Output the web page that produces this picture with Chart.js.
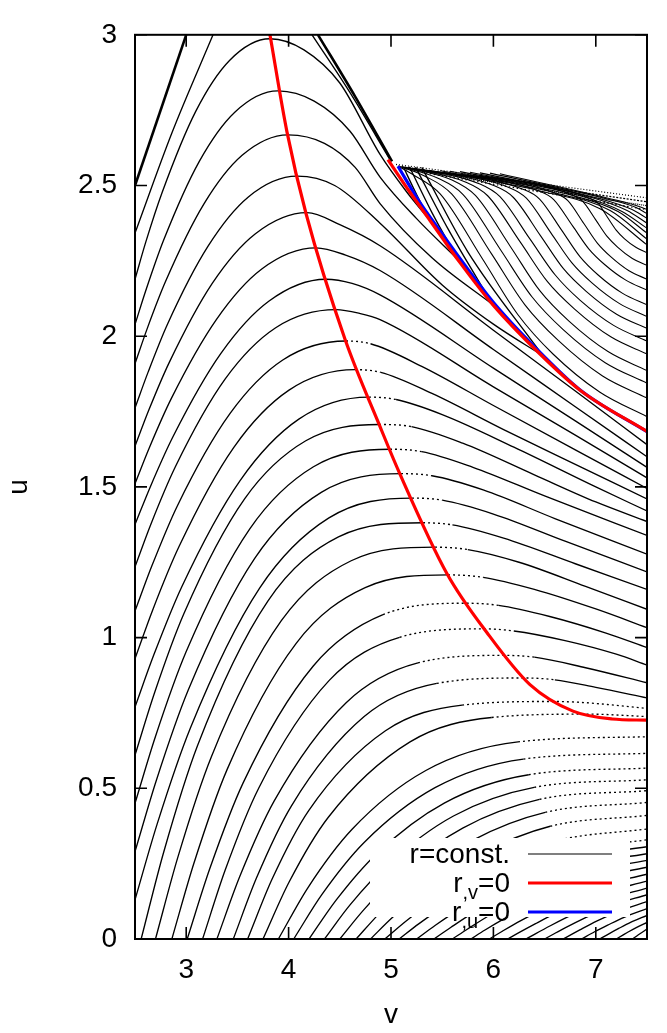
<!DOCTYPE html>
<html>
<head>
<meta charset="utf-8">
<script src="https://cdn.jsdelivr.net/npm/chart.js@4.4.1/dist/chart.umd.min.js"></script>
<style>
  html, body { margin: 0; padding: 0; background: #fff; }
  #wrap { width: 667px; height: 1033px; }
</style>
</head>
<body>
<div id="wrap"><canvas id="rchart" width="667" height="1033"></canvas></div>
<script>
// tick positions
const xTicks = [3, 4, 5, 6, 7];
const yTicks = [0, 0.5, 1, 1.5, 2, 2.5, 3];

// thick boundary segments [v, u]
const boundaryLines = [
  [[2.5, 2.5], [3.0, 3.0]],
  [[4.287, 3.0], [4.65, 2.795], [5.01, 2.58]],
];

// r=const. curve that leaves through the top and comes back
const topCurves = [
  [[2.5, 2.342], [2.861, 2.675], [3.262, 3.0]],
  [[4.229, 3.0], [4.6, 2.808], [4.99, 2.586]],
];

// r=const. curves with a maximum on r,v=0
const hillCurves = [
  [[2.5,2.189],[2.605,2.312],[2.764,2.476],[3.093,2.746],[3.423,2.915],[3.818,2.987],[4.15,2.95],[4.5,2.84],[4.893,2.603],[5.15,2.48],[5.381,2.384]],
  [[2.5,2.039],[2.612,2.158],[2.779,2.318],[3.128,2.58],[3.477,2.744],[3.896,2.814],[4.25,2.78],[4.6,2.68],[4.893,2.528],[5.25,2.39],[5.655,2.254]],
  [[2.5,1.909],[2.62,2.026],[2.799,2.182],[3.172,2.438],[3.546,2.6],[3.994,2.668],[4.35,2.64],[4.65,2.56],[4.893,2.44],[5.4,2.26],[5.996,2.104]],
  [[2.5,1.762],[2.627,1.88],[2.816,2.039],[3.212,2.298],[3.607,2.462],[4.082,2.531],[4.45,2.5],[4.893,2.375],[5.5,2.17],[6.0,2.04],[6.484,1.935]],
  [[2.5,1.635],[2.634,1.754],[2.836,1.914],[3.256,2.176],[3.676,2.34],[4.18,2.41],[4.5,2.37],[4.893,2.3],[6.0,2.02],[6.8,1.818],[7.5,1.64]],
  [[2.5,1.511],[2.641,1.631],[2.854,1.793],[3.296,2.056],[3.738,2.223],[4.268,2.293],[4.55,2.27],[4.893,2.218],[6.0,1.956],[6.8,1.766],[7.5,1.6]],
  [[2.5,1.375],[2.649,1.5],[2.873,1.668],[3.339,1.943],[3.806,2.116],[4.365,2.189],[4.62,2.175],[4.893,2.137],[6.0,1.894],[6.8,1.719],[7.5,1.565]],
  [[2.5,1.235],[2.657,1.378],[2.893,1.566],[3.383,1.859],[3.874,2.028],[4.463,2.088],[4.7,2.075],[4.893,2.055],[6.0,1.832],[6.8,1.672],[7.5,1.53]],
  [[2.5,1.088],[2.665,1.238],[2.912,1.436],[3.427,1.743],[3.943,1.921],[4.561,1.984],[4.8,1.975],[5.3,1.9],[6.0,1.77],[6.8,1.623],[7.5,1.495]],
  [[2.5,0.93],[2.672,1.091],[2.93,1.302],[3.467,1.632],[4.004,1.821],[4.649,1.889],[4.9,1.88],[5.4,1.81],[6.1,1.69],[6.8,1.575],[7.5,1.46]],
  [[2.5,0.77],[2.683,0.942],[2.957,1.169],[3.528,1.522],[4.1,1.725],[4.785,1.798],[5.05,1.79],[5.5,1.74],[6.2,1.632],[7.0,1.5],[7.5,1.42]],
  [[2.5,0.61],[2.691,0.817],[2.977,1.079],[3.572,1.461],[4.168,1.653],[4.883,1.707],[5.2,1.7],[5.7,1.645],[6.4,1.54],[7.0,1.45],[7.5,1.385]],
  [[2.5,0.45],[2.699,0.671],[2.998,0.952],[3.621,1.361],[4.243,1.567],[4.99,1.625],[5.3,1.617],[5.8,1.565],[6.5,1.47],[7.5,1.339]],
  [[2.5,0.29],[2.708,0.526],[3.02,0.826],[3.669,1.263],[4.319,1.482],[5.098,1.544],[5.4,1.537],[5.9,1.49],[6.6,1.395],[7.5,1.277]],
  [[2.5,0.13],[2.716,0.381],[3.041,0.7],[3.717,1.164],[4.394,1.397],[5.205,1.463],[5.5,1.456],[6.0,1.41],[6.7,1.32],[7.5,1.218]],
  [[2.56,0],[2.78,0.288],[3.111,0.642],[3.799,1.122],[4.487,1.334],[5.313,1.381],[5.6,1.374],[6.1,1.33],[6.8,1.245],[7.5,1.16]],
  [[2.7,0],[2.918,0.271],[3.246,0.605],[3.929,1.056],[4.611,1.255],[5.43,1.3],[5.75,1.292],[6.25,1.25],[6.9,1.17],[7.5,1.094]],
  [[2.86,0],[3.076,0.252],[3.399,0.562],[4.074,0.981],[4.748,1.166],[5.557,1.208],[5.9,1.2],[6.4,1.16],[7.0,1.095],[7.5,1.033]],
  [[3.01,0],[3.229,0.232],[3.556,0.518],[4.239,0.905],[4.922,1.076],[5.742,1.114],[6.05,1.107],[6.55,1.07],[7.1,1.015],[7.5,0.967]],
  [[3.16,0],[3.38,0.228],[3.71,0.502],[4.397,0.858],[5.084,1.001],[5.908,1.029],[6.2,1.022],[6.7,0.99],[7.2,0.945],[7.5,0.909]],
  [[3.3,0],[3.524,0.208],[3.861,0.459],[4.562,0.784],[5.263,0.916],[6.104,0.941],[6.4,0.935],[6.9,0.9],[7.5,0.85]],
  [[3.46,0],[3.687,0.203],[4.028,0.442],[4.738,0.738],[5.447,0.848],[6.299,0.866],[6.6,0.86],[7.0,0.835],[7.5,0.8]],
  [[3.6,0],[3.839,0.199],[4.198,0.427],[4.946,0.691],[5.694,0.776],[6.592,0.788],[6.9,0.784],[7.5,0.765]],
  [[3.75,0],[4.005,0.189],[4.388,0.404],[5.186,0.654],[5.983,0.735],[6.94,0.746],[7.5,0.738]],
];

// branches going back up from the cusps on r,u=0
const returnArms = [
  [[5.12,2.562],[5.25,2.47],[5.381,2.384]],
  [[5.18,2.562],[5.4,2.41],[5.655,2.254]],
  [[5.24,2.561],[5.55,2.36],[5.996,2.104]],
  [[5.3,2.56],[5.75,2.28],[6.484,1.935]],
];

// curves fanning out of the band in the upper right
const fanCurves = [
  [[5.07,2.564],[5.205,2.538],[5.48,2.472],[5.894,2.256],[6.238,2.072],[6.582,1.941],[7.041,1.814],[7.5,1.733]],
  [[5.088,2.563],[5.332,2.531],[5.592,2.472],[5.982,2.273],[6.308,2.104],[6.633,1.986],[7.066,1.868],[7.5,1.795]],
  [[5.107,2.562],[5.459,2.524],[5.704,2.47],[6.071,2.286],[6.378,2.13],[6.684,2.021],[7.092,1.912],[7.5,1.844]],
  [[5.127,2.561],[5.596,2.518],[5.824,2.467],[6.167,2.297],[6.453,2.151],[6.738,2.05],[7.119,1.949],[7.5,1.886]],
  [[5.146,2.56],[5.732,2.511],[5.944,2.466],[6.263,2.312],[6.528,2.181],[6.793,2.09],[7.146,1.998],[7.5,1.941]],
  [[5.166,2.559],[5.869,2.505],[6.064,2.463],[6.358,2.322],[6.604,2.203],[6.848,2.119],[7.174,2.036],[7.5,1.984]],
  [[5.186,2.558],[6.016,2.498],[6.193,2.461],[6.461,2.333],[6.684,2.224],[6.906,2.149],[7.203,2.073],[7.5,2.026]],
  [[5.205,2.557],[6.162,2.492],[6.322,2.458],[6.563,2.342],[6.765,2.244],[6.965,2.176],[7.232,2.108],[7.5,2.065]],
  [[5.225,2.556],[6.309,2.485],[6.451,2.455],[6.666,2.352],[6.845,2.264],[7.023,2.203],[7.262,2.142],[7.5,2.104]],
  [[5.244,2.555],[6.465,2.479],[6.589,2.453],[6.775,2.365],[6.931,2.29],[7.086,2.238],[7.293,2.186],[7.5,2.153]],
  [[5.264,2.554],[6.621,2.472],[6.727,2.45],[6.885,2.373],[7.017,2.308],[7.148,2.263],[7.324,2.217],[7.5,2.189]],
  [[5.283,2.553],[6.787,2.466],[6.873,2.447],[7.001,2.385],[7.108,2.332],[7.215,2.295],[7.357,2.258],[7.5,2.235]],
  [[5.303,2.552],[6.953,2.456],[7.019,2.442],[7.117,2.393],[7.199,2.352],[7.281,2.323],[7.391,2.295],[7.5,2.277]],
  [[5.38,2.55],[6.455,2.482],[7.041,2.423],[7.5,2.303]],
  [[5.48,2.549],[6.6,2.476],[7.14,2.417],[7.5,2.322]],
  [[5.576,2.547],[6.748,2.469],[7.217,2.414],[7.5,2.342]],
  [[5.674,2.546],[6.846,2.466],[7.256,2.414],[7.5,2.358]],
  [[5.771,2.544],[6.943,2.462],[7.305,2.417],[7.5,2.375]],
  [[5.869,2.542],[7.041,2.456],[7.354,2.42],[7.5,2.391]],
  [[5.967,2.541],[7.139,2.453],[7.393,2.427],[7.5,2.407]],
  [[6.064,2.539],[7.217,2.45],[7.422,2.43],[7.5,2.42]],
];

// noisy band along the top of the fan
const bandCurves = [
  [[5.049,2.57],[7.5,2.459]],
  [[5.068,2.564],[7.5,2.446]],
  [[5.107,2.557],[7.5,2.433]],
  [[5.186,2.55],[7.5,2.42]],
];

// r=const. curves under the flat part of r,v=0
const lowCurves = [
  [[3.9,0],[4.188,0.17],[4.62,0.364],[5.34,0.559],[6.24,0.654],[7.5,0.671]],
  [[4.05,0],[4.326,0.148],[4.74,0.321],[5.43,0.502],[6.293,0.597],[7.5,0.616]],
  [[4.2,0],[4.464,0.129],[4.86,0.283],[5.52,0.451],[6.345,0.545],[7.5,0.567]],
  [[4.35,0],[4.602,0.114],[4.98,0.251],[5.61,0.408],[6.398,0.503],[7.5,0.528]],
  [[4.5,0],[4.74,0.099],[5.1,0.223],[5.7,0.368],[6.45,0.463],[7.5,0.492]],
  [[4.66,0],[4.887,0.085],[5.228,0.194],[5.796,0.327],[6.506,0.42],[7.5,0.453]],
  [[4.8,0],[5.016,0.072],[5.34,0.164],[5.88,0.283],[6.555,0.374],[7.5,0.41]],
  [[4.94,0],[5.145,0.059],[5.452,0.137],[5.964,0.24],[6.604,0.325],[7.5,0.365]],
  [[5.08,0],[5.274,0.051],[5.564,0.118],[6.048,0.211],[6.653,0.289],[7.5,0.329]],
  [[5.25,0],[5.43,0.045],[5.7,0.106],[6.15,0.19],[6.713,0.264],[7.5,0.306]],
  [[5.42,0],[5.586,0.039],[5.836,0.094],[6.252,0.17],[6.772,0.24],[7.5,0.283]],
  [[5.6,0],[5.752,0.034],[5.98,0.082],[6.36,0.151],[6.835,0.217],[7.5,0.261]],
  [[5.78,0],[5.918,0.03],[6.124,0.071],[6.468,0.133],[6.898,0.194],[7.5,0.238]],
  [[5.96,0],[6.083,0.025],[6.268,0.061],[6.576,0.115],[6.961,0.17],[7.5,0.215]],
  [[6.14,0],[6.249,0.021],[6.412,0.051],[6.684,0.098],[7.024,0.148],[7.5,0.192]],
  [[6.32,0],[6.414,0.018],[6.556,0.044],[6.792,0.084],[7.087,0.128],[7.5,0.169]],
  [[6.5,0],[6.58,0.015],[6.7,0.037],[6.9,0.071],[7.15,0.11],[7.5,0.147]],
  [[6.68,0],[6.746,0.012],[6.844,0.03],[7.008,0.059],[7.213,0.091],[7.5,0.124]],
  [[6.86,0],[6.988,0.024],[7.116,0.046],[7.276,0.072],[7.5,0.101]],
  [[7.04,0],[7.132,0.018],[7.224,0.035],[7.339,0.055],[7.5,0.078]],
  [[7.2,0],[7.26,0.012],[7.32,0.024],[7.395,0.038],[7.5,0.055]],
  [[7.36,0],[7.416,0.014],[7.5,0.033]],
];

// r,v=0 (red)
const rvZeroLower = [[3.818,3.0],[3.984,2.678],[4.17,2.407],[4.551,1.99],[4.893,1.7],[5.078,1.55],[5.547,1.212],[5.938,1.016],[6.357,0.844],[6.777,0.756],[7.158,0.73],[7.5,0.726]];
const rvZeroUpper = [[4.97,2.586],[5.18,2.48],[5.381,2.384],[5.674,2.244],[5.996,2.104],[6.455,1.941],[6.846,1.821],[7.5,1.684]];
// r,u=0 (blue)
const ruZero = [[5.068,2.564],[5.27,2.45],[5.479,2.349],[5.72,2.236],[6.03,2.1],[6.48,1.938],[6.86,1.818],[7.5,1.683]];

const FONT = '"Liberation Sans", Arial, Helvetica, sans-serif';
const bandDashes = [[1, 2], [2, 1.5], [1, 1], [1.5, 2.5]];

// nearly flat pieces of the contours come out dotted in the original
function flatDash(ctx) {
  const dx = Math.abs(ctx.p1.x - ctx.p0.x);
  const dy = Math.abs(ctx.p1.y - ctx.p0.y);
  return dy < 0.14 * dx ? [2, 3] : undefined;
}

function curveSet(list, color, width, order, dotted) {
  return list.map((pts) => {
    const ds = {
      data: pts,
      borderColor: color,
      borderWidth: width,
      order: order,
      pointRadius: 0,
      fill: false,
      cubicInterpolationMode: "monotone",
    };
    if (dotted) ds.segment = { borderDash: flatDash };
    return ds;
  });
}

let datasets = [];
datasets = datasets.concat(curveSet([rvZeroLower, rvZeroUpper], "#ff0000", 3.2, 0, false));
datasets = datasets.concat(curveSet([ruZero], "#0000ff", 3.2, 1, false));
datasets = datasets.concat(curveSet(boundaryLines, "#000", 2.6, 2, false));
datasets = datasets.concat(curveSet(topCurves, "#000", 1.35, 3, false));
datasets = datasets.concat(curveSet(hillCurves, "#000", 1.35, 3, true));
datasets = datasets.concat(curveSet(returnArms, "#000", 1.35, 3, false));
datasets = datasets.concat(curveSet(fanCurves, "#000", 1.1, 3, true));
datasets = datasets.concat(curveSet(lowCurves, "#000", 1.35, 3, true));
bandCurves.forEach((pts, i) => {
  const ds = curveSet([pts], "#000", 1.2, 4, false)[0];
  ds.borderDash = bandDashes[i % bandDashes.length];
  datasets.push(ds);
});

// draw a label like r_{,v}=0
function drawKeyLabel(ctx, base, sub, tail, xRight, y) {
  const big = "28px " + FONT;
  const small = "20px " + FONT;
  ctx.textAlign = "left";
  ctx.font = big;
  const wBase = ctx.measureText(base).width;
  const wTail = ctx.measureText(tail).width;
  ctx.font = small;
  const wSub = ctx.measureText(sub).width;
  let x = xRight - wTail - wSub - wBase;
  ctx.font = big;
  ctx.fillText(base, x, y);
  x += wBase;
  ctx.font = small;
  ctx.fillText(sub, x, y + 7);
  x += wSub;
  ctx.font = big;
  ctx.fillText(tail, x, y);
}

const framePlugin = {
  id: "frame",
  beforeDraw(chart) {
    const ctx = chart.ctx;
    ctx.save();
    ctx.fillStyle = "#fff";
    ctx.fillRect(0, 0, chart.width, chart.height);
    ctx.restore();
  },
  afterDatasetsDraw(chart) {
    // opaque key box
    const ctx = chart.ctx;
    ctx.save();
    ctx.fillStyle = "#fff";
    ctx.fillRect(370, 838, 260, 79);
    ctx.fillStyle = "#000";
    ctx.textBaseline = "alphabetic";
    ctx.font = "28px " + FONT;
    ctx.textAlign = "right";
    ctx.fillText("r=const.", 510, 863);
    drawKeyLabel(ctx, "r", ",v", "=0", 510, 892);
    drawKeyLabel(ctx, "r", ",u", "=0", 510, 921);
    const samples = [["#000", 1.2, 854], ["#ff0000", 3.2, 883], ["#0000ff", 3.2, 912]];
    samples.forEach(([c, w, y]) => {
      ctx.strokeStyle = c;
      ctx.lineWidth = w;
      ctx.beginPath();
      ctx.moveTo(528, y);
      ctx.lineTo(612, y);
      ctx.stroke();
    });
    ctx.restore();
  },
  afterDraw(chart) {
    const ctx = chart.ctx;
    const { left, right, top, bottom } = chart.chartArea;
    const xs = chart.scales.x;
    const ys = chart.scales.y;
    ctx.save();
    ctx.strokeStyle = "#000";
    ctx.lineWidth = 1.6;
    ctx.beginPath();
    xTicks.forEach((v) => {
      const px = xs.getPixelForValue(v);
      ctx.moveTo(px, bottom);
      ctx.lineTo(px, bottom - 12);
      ctx.moveTo(px, top);
      ctx.lineTo(px, top + 12);
    });
    yTicks.forEach((u) => {
      const py = ys.getPixelForValue(u);
      ctx.moveTo(left, py);
      ctx.lineTo(left + 12, py);
      ctx.moveTo(right, py);
      ctx.lineTo(right - 12, py);
    });
    ctx.stroke();
    ctx.lineWidth = 2;
    ctx.strokeRect(left, top, right - left, bottom - top);
    ctx.restore();
  },
};

const tickFont = { family: FONT, size: 28 };

new Chart(document.getElementById("rchart"), {
  type: "line",
  data: { datasets: datasets },
  options: {
    responsive: false,
    devicePixelRatio: 1,
    animation: false,
    events: [],
    layout: { padding: { top: 18, right: 20, left: 0, bottom: 0 } },
    plugins: { legend: { display: false }, tooltip: { enabled: false } },
    elements: { point: { radius: 0 } },
    scales: {
      x: {
        type: "linear",
        min: 2.5,
        max: 7.5,
        afterBuildTicks: (axis) => {
          axis.ticks = xTicks.map((v) => ({ value: v }));
        },
        afterFit: (axis) => {
          axis.height = 94;
        },
        grid: { display: false, drawTicks: false },
        border: { display: false },
        ticks: {
          font: tickFont,
          color: "#000",
          padding: 14,
          maxRotation: 0,
          autoSkip: false,
          callback: (val) => String(val),
        },
        title: {
          display: true,
          text: "v",
          font: tickFont,
          color: "#000",
          padding: { top: 0, bottom: 1 },
        },
      },
      y: {
        type: "linear",
        min: 0,
        max: 3,
        afterBuildTicks: (axis) => {
          axis.ticks = yTicks.map((v) => ({ value: v }));
        },
        afterFit: (axis) => {
          axis.width = 135;
        },
        grid: { display: false, drawTicks: false },
        border: { display: false },
        ticks: {
          font: tickFont,
          color: "#000",
          padding: 18,
          autoSkip: false,
          callback: (val) => String(val),
        },
        title: {
          display: true,
          text: "u",
          font: tickFont,
          color: "#000",
          padding: { top: 2, bottom: 0 },
        },
      },
    },
  },
  plugins: [framePlugin],
});
</script>
</body>
</html>
